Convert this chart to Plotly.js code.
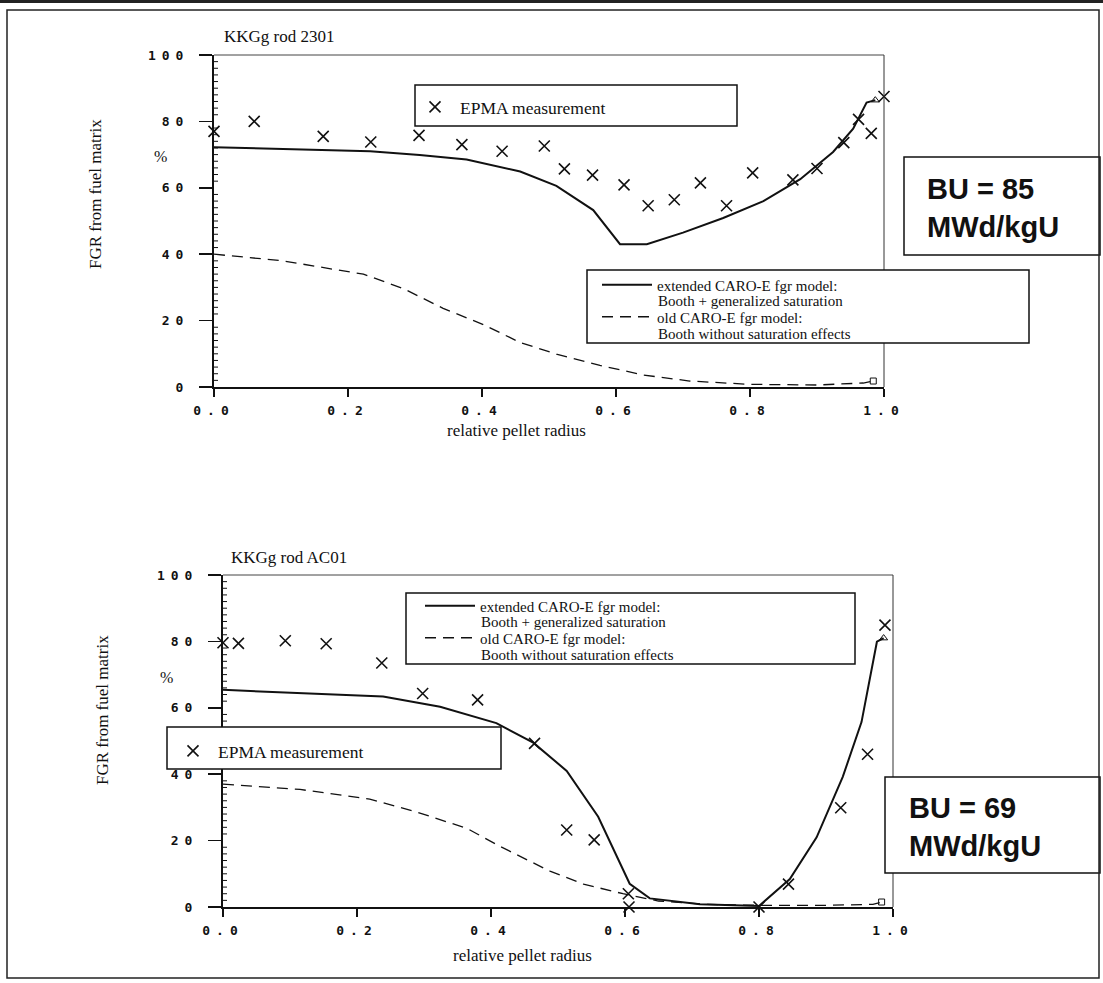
<!DOCTYPE html>
<html>
<head>
<meta charset="utf-8">
<script src="https://cdn.plot.ly/plotly-3.0.1.min.js"></script>
<style>
  html, body { margin: 0; padding: 0; background: #fff; }
  #chart { width: 1103px; height: 983px; }
  .xaxislayer-above text, .yaxislayer-above text,
  .xtick text, .ytick text, .x2tick text, .y2tick text { letter-spacing: 6px; }
</style>
</head>
<body>
<div id="chart"></div>
<script>
// ---------------- data ----------------
// Top panel: KKGg rod 2301, BU = 85 MWd/kgU
const topEpmaR   = [0.0, 0.06, 0.163, 0.234, 0.306, 0.37, 0.43, 0.493, 0.523, 0.565, 0.612, 0.648, 0.687, 0.726, 0.765, 0.804, 0.864, 0.9, 0.94, 0.962, 0.981, 1.0];
const topEpmaFgr = [77, 80, 75.5, 73.8, 75.8, 73, 71, 72.6, 65.7, 63.8, 60.9, 54.6, 56.4, 61.5, 54.6, 64.5, 62.4, 65.8, 73.6, 80.6, 76.4, 87.5];

const topExtR   = [0.0, 0.143, 0.233, 0.307, 0.377, 0.457, 0.511, 0.566, 0.606, 0.646, 0.70, 0.76, 0.82, 0.875, 0.924, 0.954, 0.974, 0.987];
const topExtFgr = [72.2, 71.4, 71.0, 69.9, 68.5, 64.9, 60.6, 53.3, 43.0, 43.0, 46.5, 50.9, 56.0, 62.6, 70.8, 77.8, 85.7, 86.4];

const topOldR   = [0.0, 0.103, 0.168, 0.223, 0.283, 0.342, 0.402, 0.457, 0.511, 0.576, 0.641, 0.71, 0.80, 0.90, 0.969, 0.984];
const topOldFgr = [40.0, 38.0, 35.8, 34.0, 29.6, 23.7, 18.8, 13.4, 9.9, 6.5, 3.6, 1.8, 0.8, 0.6, 1.2, 1.8];

const topExtEndR = [0.987], topExtEndFgr = [86.4];
const topOldEndR = [0.984], topOldEndFgr = [1.8];

// Bottom panel: KKGg rod AC01, BU = 69 MWd/kgU
const botEpmaR   = [0.0, 0.023, 0.093, 0.154, 0.237, 0.298, 0.38, 0.465, 0.513, 0.554, 0.605, 0.606, 0.80, 0.844, 0.922, 0.962, 0.988, 1.003];
const botEpmaFgr = [79.6, 79.4, 80.2, 79.3, 73.5, 64.3, 62.4, 49.3, 23.2, 20.2, 4.0, 0.0, 0.0, 6.9, 29.9, 46.0, 84.9, 85.9];

const botExtR   = [0.0, 0.239, 0.324, 0.408, 0.463, 0.513, 0.56, 0.607, 0.637, 0.712, 0.80, 0.846, 0.886, 0.925, 0.953, 0.976, 0.986];
const botExtFgr = [65.4, 63.4, 60.3, 55.4, 49.5, 41.0, 27.2, 7.0, 2.6, 0.8, 0.3, 8.4, 21.0, 39.2, 55.7, 79.9, 81.0];

const botOldR   = [0.0, 0.115, 0.219, 0.289, 0.364, 0.413, 0.488, 0.538, 0.597, 0.65, 0.72, 0.80, 0.90, 0.97, 0.983];
const botOldFgr = [37.0, 35.4, 32.5, 28.6, 23.7, 18.3, 10.8, 6.9, 4.0, 1.8, 0.8, 0.5, 0.5, 0.8, 1.5];

const botExtEndR = [0.986], botExtEndFgr = [81.0];
const botOldEndR = [0.983], botOldEndFgr = [1.5];

// texts
const panelTitles = ['KKGg rod 2301', 'KKGg rod AC01'];
const buTexts = ['BU = 85<br>MWd/kgU', 'BU = 69<br>MWd/kgU'];
const yTitle = 'FGR from fuel matrix';
const xTitle = 'relative pellet radius';
const nameEpma = 'EPMA measurement';
const nameExt = 'extended CARO-E fgr model:';
const nameExt2 = 'Booth + generalized saturation';
const nameOld = 'old CARO-E fgr model:';
const nameOld2 = 'Booth without saturation effects';

// ---------------- layout helpers ----------------
const W = 1103, H = 983;
const px = v => v / W;
const py = v => 1 - v / H;
const INK = '#111';
const serif = 'Liberation Serif, Times New Roman, serif';

const epmaMarker = { symbol: 'x-thin-open', size: 11, color: INK, line: { width: 1.6, color: INK } };
const extLine = { color: INK, width: 2 };
const oldLine = { color: INK, width: 1.3, dash: '11px,7px' };

function traces(xa, ya, legEpma, legModel, eR, eF, sR, sF, dR, dF, seR, seF, deR, deF) {
  return [
    { x: eR, y: eF, xaxis: xa, yaxis: ya, type: 'scatter', mode: 'markers', name: nameEpma,
      legend: legEpma, marker: epmaMarker, cliponaxis: false },
    { x: sR, y: sF, xaxis: xa, yaxis: ya, type: 'scatter', mode: 'lines', name: nameExt,
      legend: legModel, legendgroup: legModel + 'ext', line: extLine, cliponaxis: false },
    { x: dR, y: dF, xaxis: xa, yaxis: ya, type: 'scatter', mode: 'lines', name: nameOld,
      legend: legModel, legendgroup: legModel + 'old', line: oldLine, cliponaxis: false },
    { x: seR, y: seF, xaxis: xa, yaxis: ya, type: 'scatter', mode: 'markers', showlegend: false,
      marker: { symbol: 'triangle-up-open', size: 7, color: INK, line: { width: 1, color: INK } }, cliponaxis: false },
    { x: deR, y: deF, xaxis: xa, yaxis: ya, type: 'scatter', mode: 'markers', showlegend: false,
      marker: { symbol: 'square-open', size: 6, color: INK, line: { width: 1, color: INK } }, cliponaxis: false }
  ];
}

const data = [
  ...traces('x', 'y', 'legend', 'legend2', topEpmaR, topEpmaFgr, topExtR, topExtFgr, topOldR, topOldFgr,
            topExtEndR, topExtEndFgr, topOldEndR, topOldEndFgr),
  ...traces('x2', 'y2', 'legend4', 'legend3', botEpmaR, botEpmaFgr, botExtR, botExtFgr, botOldR, botOldFgr,
            botExtEndR, botExtEndFgr, botOldEndR, botOldEndFgr)
];

const tickFont = { family: 'DejaVu Sans Mono, monospace', size: 13, weight: 'bold', color: INK };

function xAxis(domain, anchor) {
  return {
    domain, anchor, range: [0, 1], tick0: 0, dtick: 0.2, tickformat: '.1f',
    showline: true, linewidth: 2, linecolor: INK, zeroline: false, showgrid: false,
    ticks: 'outside', ticklen: 8, tickwidth: 1.5, tickcolor: INK,
    tickfont: tickFont, ticklabelstandoff: 2, fixedrange: true
  };
}
function yAxis(domain, anchor) {
  return {
    domain, anchor, range: [0, 100], tick0: 0, dtick: 20,
    showline: true, linewidth: 2, linecolor: INK, zeroline: false, showgrid: false,
    ticks: 'outside', ticklen: 13, tickwidth: 1.5, tickcolor: INK,
    tickfont: tickFont, ticklabelstandoff: 7, fixedrange: true
  };
}

// small and medium tick marks of the axes (pixel-sized marks anchored on axis values)
function axisTicks(xr, yr) {
  const out = [];
  for (let i = 1; i < 50; i++) {
    const v = i * 2;
    if (v % 20 === 0) continue;
    out.push({ type: 'line', xref: xr, yref: yr, xsizemode: 'pixel', xanchor: 0,
               x0: 0, x1: 4, y0: v, y1: v, line: { color: INK, width: 1 }, layer: 'above' });
    if (v % 10 === 0) {
      out.push({ type: 'line', xref: xr, yref: yr, xsizemode: 'pixel', xanchor: 0,
                 x0: -10, x1: 0, y0: v, y1: v, line: { color: INK, width: 1.2 }, layer: 'above' });
    }
  }
  for (let i = 1; i < 50; i++) {
    if (i % 10 === 0) continue;
    const v = i / 50;
    const len = (i % 5 === 0) ? 6 : 3;
    out.push({ type: 'line', xref: xr, yref: yr, ysizemode: 'pixel', yanchor: 0,
               y0: -len, y1: 0, x0: v, x1: v, line: { color: INK, width: 1.2 }, layer: 'above' });
  }
  return out;
}

function box(x0, y0, x1, y1) {
  return { type: 'rect', xref: 'paper', yref: 'paper', x0: px(x0), x1: px(x1), y0: py(y1), y1: py(y0),
           fillcolor: '#fff', line: { color: INK, width: 1.5 }, layer: 'above' };
}
function border(xr, yr) {
  return [
    { type: 'line', xref: xr + ' domain', yref: yr + ' domain', x0: 0, x1: 1, y0: 1, y1: 1,
      line: { color: '#444', width: 1 }, layer: 'above' },
    { type: 'line', xref: xr + ' domain', yref: yr + ' domain', x0: 1, x1: 1, y0: 0, y1: 1,
      line: { color: '#333', width: 1 }, layer: 'above' }
  ];
}

function txt(text, x, y, opts) {
  return Object.assign({ text, xref: 'paper', yref: 'paper', x: px(x), y: py(y), showarrow: false,
                         xanchor: 'center', yanchor: 'middle',
                         font: { family: serif, size: 17, color: INK } }, opts || {});
}
const legFont = { family: serif, size: 15, color: INK };

const legendBase = { bgcolor: 'rgba(0,0,0,0)', borderwidth: 0, xanchor: 'left', yanchor: 'top',
                     orientation: 'v', tracegroupgap: 0 };

const layout = {
  width: W, height: H,
  margin: { l: 0, r: 0, t: 0, b: 0 },
  paper_bgcolor: '#fff', plot_bgcolor: '#fff',
  showlegend: true,
  xaxis: xAxis([px(214), px(884)], 'y'),
  yaxis: yAxis([py(387), py(55)], 'x'),
  xaxis2: xAxis([px(223), px(893)], 'y2'),
  yaxis2: yAxis([py(907), py(575)], 'x2'),
  legend: Object.assign({}, legendBase, { x: px(410), y: py(89), itemwidth: 40,
            font: { family: serif, size: 17.5, color: INK } }),
  legend2: Object.assign({}, legendBase, { x: px(597), y: py(268.5), itemwidth: 50, tracegroupgap: 9.5, font: legFont }),
  legend3: Object.assign({}, legendBase, { x: px(420), y: py(589.5), itemwidth: 50, tracegroupgap: 9.5, font: legFont }),
  legend4: Object.assign({}, legendBase, { x: px(168), y: py(733), itemwidth: 40,
            font: { family: serif, size: 17.5, color: INK } }),
  shapes: [
    ...border('x', 'y'),
    ...border('x2', 'y2'),
    ...axisTicks('x', 'y'),
    ...axisTicks('x2', 'y2'),
    box(415, 85, 737, 126),
    box(587, 270, 1029, 343),
    box(904, 157, 1100, 255),
    box(406, 593, 855, 664),
    box(167, 727, 501, 769),
    box(885, 777, 1100, 873),
    { type: 'rect', xref: 'paper', yref: 'paper', x0: px(7), x1: px(1099), y0: py(978), y1: py(10),
      line: { color: '#222', width: 1.5 }, layer: 'above' },
    { type: 'line', xref: 'paper', yref: 'paper', x0: 0, x1: 1, y0: py(1.5), y1: py(1.5),
      line: { color: '#222', width: 3 }, layer: 'above' }
  ],
  annotations: [
    txt(panelTitles[0], 222, 37, { xanchor: 'left' }),
    txt(panelTitles[1], 229, 557, { xanchor: 'left' }),
    txt(yTitle, 95, 194, { textangle: -90 }),
    txt(yTitle, 102, 710, { textangle: -90 }),
    txt('%', 160, 157, { font: { family: serif, size: 16, color: INK } }),
    txt('%', 166, 677, { font: { family: serif, size: 16, color: INK } }),
    txt(xTitle, 516, 430),
    txt(xTitle, 522, 955),
    // second lines of the model legend entries
    txt(nameExt2, 657, 301, { xanchor: 'left', borderpad: 0, font: legFont }),
    txt(nameOld2, 657, 333.5, { xanchor: 'left', borderpad: 0, font: legFont }),
    txt(nameExt2, 480, 622, { xanchor: 'left', borderpad: 0, font: legFont }),
    txt(nameOld2, 480, 654.5, { xanchor: 'left', borderpad: 0, font: legFont }),
    txt(buTexts[0], 925, 208, { xanchor: 'left', align: 'left',
        font: { family: 'Liberation Sans, Arial, sans-serif', size: 29, weight: 'bold', color: INK } }),
    txt(buTexts[1], 907, 827, { xanchor: 'left', align: 'left',
        font: { family: 'Liberation Sans, Arial, sans-serif', size: 29, weight: 'bold', color: INK } })
  ]
};

Plotly.newPlot('chart', data, layout, { displayModeBar: false, staticPlot: true });
</script>
</body>
</html>
